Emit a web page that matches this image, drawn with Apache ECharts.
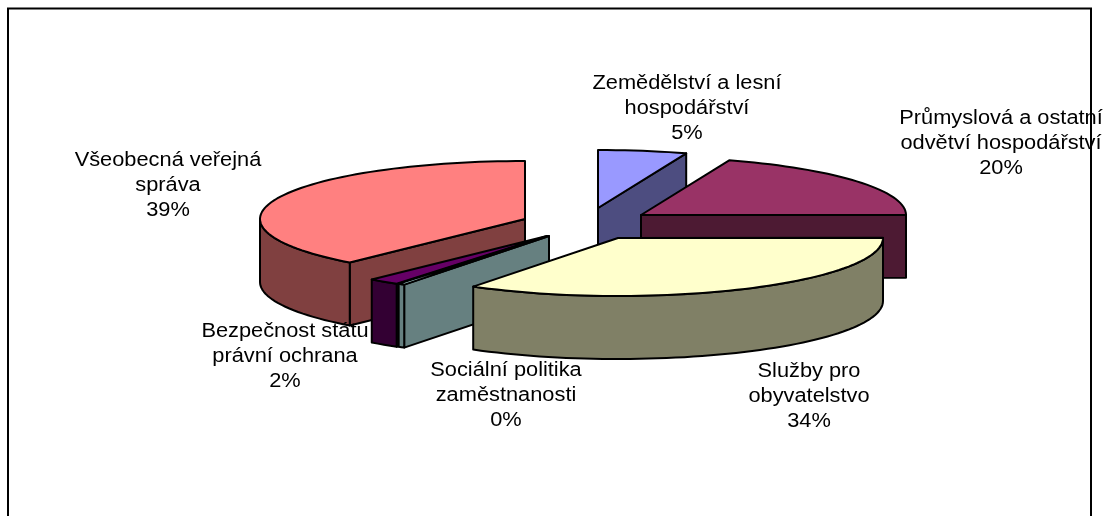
<!DOCTYPE html>
<html><head><meta charset="utf-8">
<style>html,body{margin:0;padding:0;background:#fff}#c{width:1110px;height:516px}</style>
<script src="https://cdn.jsdelivr.net/npm/echarts@6/dist/echarts.min.js"></script>
</head><body><div id="c"></div>
<script>
// Data (clockwise from 12 o'clock)
var categories = ['Zemědělství a lesní\nhospodářství','Průmyslová a ostatní\nodvětví hospodářství','Služby pro\nobyvatelstvo','Sociální politika\nzaměstnanosti','Bezpečnost státu\nprávní ochrana','Všeobecná veřejná\nspráva'];
var shares = [5.4, 19.5, 34.3, 0.4, 1.9, 38.5];
var topColors = ['#9999FF','#993366','#FFFFCC','#CCFFFF','#660066','#FF8080'];
var sideColors = ['#4D4D80','#4D1A33','#808066','#668080','#330033','#804040'];

// Layout of the exploded, tilted pie
var RX = 265, RY = 58, DEPTH = 63;
var PIE_X = 575, PIE_Y = 225;
var explodeOffsets = [[23,-17],[66,-10],[43,13],[-26,11],[-28,11],[-50,-6]];
var paintOrder = [0,1,5,4,3,2];
var labelAnchors = [[687,108],[1001,143],[809,396],[506,395],[285,356],[168,185]];
var FONT = '20px "Liberation Sans", Arial, sans-serif';
var TEXT_STRETCH = 1.09;

var total = shares.reduce(function(a,b){return a+b;},0);
var cumulative = [];
shares.reduce(function(s,v,i){cumulative[i]=s;return s+v;},0);

function rimPoint(c,a){return [c[0]+RX*Math.sin(a), c[1]-RY*Math.cos(a)];}
function rimPoints(c,a0,a1){
  var n=Math.max(2,Math.ceil((a1-a0)/(Math.PI/90))),pts=[];
  for(var i=0;i<=n;i++){pts.push(rimPoint(c,a0+(a1-a0)*i/n));}
  return pts;
}
function drop(p){return [p[0],p[1]+DEPTH];}
function face(points,fill,z){
  return {type:'polygon',z2:z,shape:{points:points},
    style:{fill:fill,stroke:'#000',lineWidth:2,lineJoin:'round'}};
}
function renderItem(params,api){
  var i=params.dataIndex, value=api.value(0);
  var a0=cumulative[i]/total*2*Math.PI, a1=a0+value/total*2*Math.PI;
  var off=explodeOffsets[i], c=[PIE_X+off[0],PIE_Y+off[1]];
  var base=paintOrder.indexOf(i)*10, kids=[];
  var pa0=rimPoint(c,a0), pa1=rimPoint(c,a1);
  // radial walls that face the viewer
  if(Math.sin(a1)>0){kids.push(face([c,pa1,drop(pa1),drop(c)],sideColors[i],base+1));}
  if(Math.sin(a0)<0){kids.push(face([c,pa0,drop(pa0),drop(c)],sideColors[i],base+2));}
  // outer rim wall, front half only
  var f0=Math.max(a0,Math.PI/2), f1=Math.min(a1,3*Math.PI/2);
  if(f1>f0){
    var rim=rimPoints(c,f0,f1);
    kids.push(face(rim.concat(rim.map(drop).reverse()),sideColors[i],base+3));
  }
  // top face
  kids.push(face([c].concat(rimPoints(c,a0,a1)),topColors[i],base+4));
  // label
  kids.push({type:'text',z2:200,
    x:labelAnchors[i][0],y:labelAnchors[i][1],scaleX:TEXT_STRETCH,scaleY:1,
    style:{x:0,y:0,
    text:categories[i]+'\n'+Math.round(value)+'%',
    font:FONT,fill:'#000',align:'center',verticalAlign:'middle',lineHeight:25}});
  return {type:'group',children:kids};
}
var chart=echarts.init(document.getElementById('c'),null,{renderer:'canvas'});
chart.setOption({
  animation:false,
  backgroundColor:'#fff',
  graphic:[{type:'rect',z:-1,silent:true,
    shape:{x:8,y:8.5,width:1083,height:520},
    style:{fill:'#fff',stroke:'#000',lineWidth:2}}],
  series:[{type:'custom',coordinateSystem:'none',silent:true,clip:false,
    data:shares.map(function(v,i){return {value:[v],name:categories[i]};}),
    renderItem:renderItem}]
});
</script></body></html>
